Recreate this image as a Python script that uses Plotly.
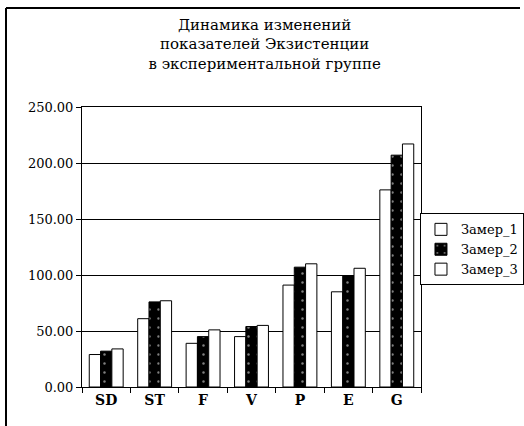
import plotly.graph_objects as go

categories = ["SD", "ST", "F", "V", "P", "E", "G"]
zamer_1 = [29, 61, 39, 45, 91, 85, 176]
zamer_2 = [32, 76, 45, 54, 107, 99, 207]
zamer_3 = [34, 77, 51, 55, 110, 106, 217]
series_names = ["Замер_1", "Замер_2", "Замер_3"]
y_ticks = [0, 50, 100, 150, 200, 250]
title_lines = ["Динамика изменений", "показателей Экзистенции", "в экспериментальной группе"]

SERIF = "DejaVu Serif"

fig = go.Figure()
fig.add_trace(go.Bar(
    x=categories, y=zamer_1, name=series_names[0],
    marker=dict(color="white", line=dict(color="black", width=1)),
))
fig.add_trace(go.Bar(
    x=categories, y=zamer_2, name=series_names[1],
    marker=dict(color="black", line=dict(color="black", width=1),
                pattern=dict(shape=".", fgcolor="white", bgcolor="black",
                             size=9, solidity=0.06)),
))
fig.add_trace(go.Bar(
    x=categories, y=zamer_3, name=series_names[2],
    marker=dict(color="white", line=dict(color="black", width=1)),
))

fig.update_layout(
    width=524, height=426,
    margin=dict(l=82, r=103, t=107, b=39, autoexpand=False),
    paper_bgcolor="white", plot_bgcolor="white",
    barmode="group", bargap=0.30, bargroupgap=0,
    font=dict(family=SERIF, color="black", size=13),
    title=dict(
        text="<br>".join(title_lines),
        x=0.505, xanchor="center", y=0.93, yanchor="top",
        font=dict(family=SERIF, size=15, color="black"),
    ),
    legend=dict(
        x=0.997, xanchor="left", y=0.62, yanchor="top",
        bordercolor="black", borderwidth=1, bgcolor="white",
        font=dict(family=SERIF, size=13, color="black"),
        itemwidth=30, tracegroupgap=0,
    ),
    showlegend=True,
)

fig.update_xaxes(
    type="category",
    showline=True, linecolor="black", linewidth=1, mirror=True,
    ticks="outside", ticklen=5, tickcolor="black", tickson="boundaries",
    showgrid=False,
    tickfont=dict(family=SERIF, size=14, color="black", weight="bold"),
)
fig.update_yaxes(
    range=[0, 250], tickvals=y_ticks, tickformat=".2f",
    showline=True, linecolor="black", linewidth=1, mirror=True,
    ticks="outside", ticklen=5, tickcolor="black",
    showgrid=True, gridcolor="black", gridwidth=1,
    zeroline=False,
    tickfont=dict(family=SERIF, size=13, color="black"),
)

# outer chart frame (left and top edges)
fig.add_shape(type="line", xref="paper", yref="paper",
              x0=(6 - 82) / 339, x1=(6 - 82) / 339,
              y0=(387 - 426) / 280, y1=(387 - 8) / 280,
              line=dict(color="black", width=2))
fig.add_shape(type="line", xref="paper", yref="paper",
              x0=(6 - 82) / 339, x1=(520 - 82) / 339,
              y0=(387 - 8) / 280, y1=(387 - 8) / 280,
              line=dict(color="black", width=2))

fig.write_html("out.html", config={"displayModeBar": False},
               post_script="document.body.style.margin='0';")
